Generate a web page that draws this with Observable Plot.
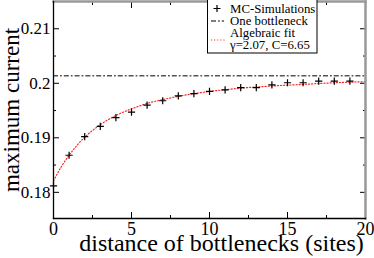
<!DOCTYPE html>
<html><head><meta charset="utf-8">
<script src="https://cdn.jsdelivr.net/npm/d3@7"></script>
<script src="https://cdn.jsdelivr.net/npm/@observablehq/plot@0.6"></script>
<style>
body{margin:0;background:#fff;}
#chart{width:374px;height:258px;}
</style></head><body><div id="chart"></div>
<script>
// MC simulation points
const distances = [0,1,2,3,4,5,6,7,8,9,10,11,12,13,14,15,16,17,18,19];
const mcCurrent = [0.1812,0.1868,0.1902,0.1921,0.1937,0.1947,0.1960,0.1968,0.1977,0.1981,0.1985,0.1988,0.1992,0.1992,0.1997,0.2001,0.2001,0.2004,0.2004,0.2004];
// one bottleneck level
const oneBottleneck = [0.2014];
// algebraic fit curve
const fitDistance = [0,0.5,1,1.5,2,3,4,5,6,7,8,9,10,12,14,16,18,20];
const fitCurrent = [0.1821,0.1847,0.1868,0.1886,0.1901,0.1924,0.1941,0.1953,0.1963,0.1970,0.1976,0.1981,0.1985,0.1991,0.1995,0.1998,0.2001,0.2003];
// ticks
const xMajorTicks = [0,5,10,15,20];
const xMinorTicks = [2.5,7.5,12.5,17.5];
const yMajorTicks = [0.18,0.19,0.2,0.21];
const yMinorTicks = [0.185,0.195,0.205];
const xLabel = "distance of bottlenecks (sites)";
const yLabel = "maximum current";
const legendLabels = ["MC-Simulations","One bottleneck","Algebraic fit","γ=2.07, C=6.65"];

const mc = distances.map((d,i)=>({d, v: mcCurrent[i]}));
const fit = fitDistance.map((d,i)=>({d, v: fitCurrent[i]}));

const thinPlus = {draw(ctx, size){const r = Math.sqrt(size/Math.PI); ctx.moveTo(-r,0); ctx.lineTo(r,0); ctx.moveTo(0,-r); ctx.lineTo(0,r);}};
const serif = "'Liberation Serif', 'Times New Roman', serif";

const chart = Plot.plot({
  width: 374, height: 258,
  marginLeft: 53, marginRight: 9, marginTop: 1, marginBottom: 40,
  x: {domain: [0,20]},
  y: {domain: [0.1752, 0.215]},
  style: {fontFamily: serif, background: "white", color: "black"},
  marks: [
    Plot.ruleY(oneBottleneck, {stroke: "#555", strokeWidth: 1.5, strokeDasharray: "5,2,1.8,2"}),
    Plot.line(fit, {x: "d", y: "v", stroke: "#f22", strokeWidth: 1.2, strokeDasharray: "1.1,2", curve: "monotone-x"}),
    Plot.dot(mc, {x: "d", y: "v", symbol: thinPlus, r: 3.6, stroke: "black", fill: "none", strokeWidth: 1.2}),
    // inward ticks
    Plot.axisX(xMajorTicks, {anchor: "bottom", tickSize: 6, dy: -6, fill: "none", label: null}),
    Plot.axisX(xMinorTicks, {anchor: "bottom", tickSize: 3, dy: -3, fill: "none", label: null}),
    Plot.axisX(xMajorTicks, {anchor: "top", tickSize: 6, dy: 6, fill: "none", label: null}),
    Plot.axisX(xMinorTicks, {anchor: "top", tickSize: 3, dy: 3, fill: "none", label: null}),
    Plot.axisY(yMajorTicks, {anchor: "left", tickSize: 6, dx: 6, fill: "none", label: null}),
    Plot.axisY(yMinorTicks, {anchor: "left", tickSize: 3, dx: 3, fill: "none", label: null}),
    Plot.axisY(yMajorTicks, {anchor: "right", tickSize: 6, dx: -6, fill: "none", label: null}),
    Plot.axisY(yMinorTicks, {anchor: "right", tickSize: 3, dx: -3, fill: "none", label: null}),
    // tick labels
    Plot.axisX(xMajorTicks, {anchor: "bottom", tickSize: 0, tickPadding: 4, fontSize: 18, tickFormat: d => String(d), label: null}),
    Plot.axisY(yMajorTicks, {anchor: "left", tickSize: 0, tickPadding: 3, fontSize: 17, tickFormat: d => String(d), label: null}),
    // frame
    Plot.frame({anchor: "top", stroke: "#999", strokeWidth: 2.5}),
    Plot.frame({anchor: "right", stroke: "#999", strokeWidth: 2.5}),
    Plot.frame({anchor: "left", stroke: "black", strokeWidth: 1.3}),
    Plot.frame({anchor: "bottom", stroke: "black", strokeWidth: 1.3}),
    // axis titles
    Plot.text([xLabel], {frameAnchor: "bottom", textAnchor: "middle", lineAnchor: "middle", dx: 12, dy: 25, fontSize: 24, fontFamily: serif}),
    Plot.text([yLabel], {frameAnchor: "left", textAnchor: "middle", lineAnchor: "middle", dx: -42, rotate: -90, fontSize: 23, fontFamily: serif})
  ]
});
document.getElementById("chart").appendChild(chart);

// legend box
const svg = d3.select(chart);
const lg = svg.append("g").attr("font-family", serif).attr("font-size", 12.8).attr("text-anchor", "start");
lg.append("rect").attr("x", 207.5).attr("y", -1).attr("width", 109.5).attr("height", 54)
  .attr("fill", "white").attr("stroke", "black").attr("stroke-width", 1);
const rowY = [8.5, 21, 33, 45];
legendLabels.forEach((t,i)=>{
  lg.append("text").attr("x", 230).attr("y", rowY[i] + 4.4).attr("text-anchor","start").text(t);
});
lg.append("path").attr("d", "M213.5,8.5H220.5M217,5V12").attr("stroke","black").attr("stroke-width",1.2);
lg.append("line").attr("x1",211).attr("x2",224).attr("y1",21).attr("y2",21)
  .attr("stroke","#555").attr("stroke-width",1.5).attr("stroke-dasharray","5,2,1.8,2");
lg.append("line").attr("x1",211).attr("x2",225).attr("y1",40).attr("y2",40)
  .attr("stroke","#f22").attr("stroke-width",1.2).attr("stroke-dasharray","1.1,2");
</script></body></html>
